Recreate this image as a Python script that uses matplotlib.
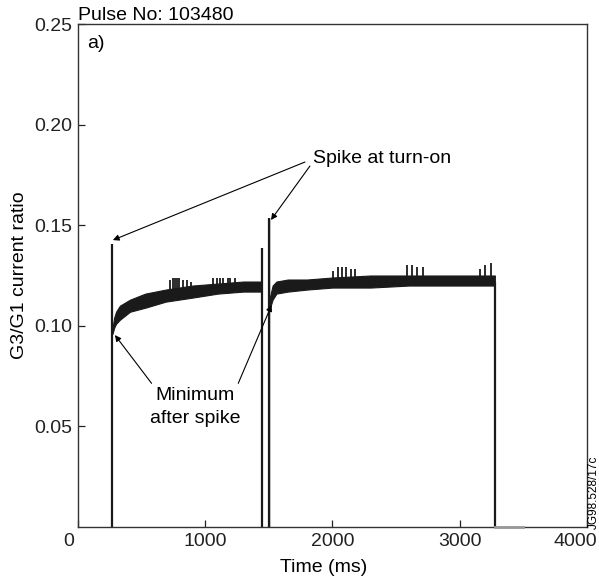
import matplotlib
matplotlib.use('Agg')
import matplotlib.pyplot as plt
import matplotlib.transforms as mtransforms
import numpy as np

plt.rcParams['font.family'] = ['Liberation Sans', 'DejaVu Sans']
plt.rcParams['font.size'] = 14

# ---- data (time in ms, G3/G1 ratio) ----
# noisy band before the gap: lower / upper envelope
seg1_t = [272, 285, 300, 330, 410, 530, 690, 900, 1100, 1300, 1440]
seg1_lo = [0.096, 0.099, 0.101, 0.103, 0.107, 0.109, 0.112, 0.114, 0.116, 0.117, 0.117]
seg1_hi = [0.099, 0.104, 0.107, 0.110, 0.113, 0.116, 0.118, 0.120, 0.121, 0.122, 0.122]

# band after the gap
seg2_t = [1505, 1515, 1530, 1560, 1650, 1800, 2000, 2300, 2600, 2900, 3276]
seg2_lo = [0.110, 0.110, 0.113, 0.116, 0.117, 0.118, 0.119, 0.119, 0.120, 0.120, 0.120]
seg2_hi = [0.113, 0.116, 0.120, 0.122, 0.123, 0.123, 0.124, 0.125, 0.125, 0.125, 0.125]

# turn-on / turn-off edges (vertical lines from zero)
edge_t = [270, 1445, 1500, 3276]
edge_top = [0.1405, 0.1385, 0.1535, 0.122]

# small spikes sticking out of the band
spike_t = [725, 745, 762, 777, 793, 825, 856, 888, 1060, 1092, 1115, 1140, 1178,
           1194, 1233, 2003, 2040, 2075, 2110, 2145, 2176, 2585, 2624, 2663, 2710,
           3158, 3197, 3244]
spike_v = [0.123, 0.124, 0.124, 0.124, 0.124, 0.123, 0.123, 0.122, 0.124, 0.124,
           0.124, 0.124, 0.124, 0.124, 0.124, 0.127, 0.129, 0.129, 0.129, 0.128,
           0.128, 0.130, 0.130, 0.129, 0.129, 0.128, 0.130, 0.131]

# signal off after the pulse
tail_t = [3276, 3495]
tail_v = [0.0, 0.0]

x_ticks = [0, 1000, 2000, 3000, 4000]
y_ticks = [0.05, 0.10, 0.15, 0.20, 0.25]


fig = plt.figure(figsize=(5.99, 5.83), dpi=100)
ax = fig.add_axes([0.130, 0.0961, 0.850, 0.8627])

trace = '#1a1a1a'
ax.fill_between(seg1_t, seg1_lo, seg1_hi, color=trace, lw=0.8)
ax.fill_between(seg2_t, seg2_lo, seg2_hi, color=trace, lw=0.8)

all_t = seg1_t + seg2_t
all_c = [(a + b) / 2 for a, b in zip(seg1_lo + seg2_lo, seg1_hi + seg2_hi)]
base = np.interp(spike_t, all_t, all_c)
ax.vlines(spike_t, base, spike_v, color=trace, lw=1.3)

ax.vlines(edge_t, 0, edge_top, color=trace, lw=1.6)
ax.vlines(edge_t[2] + 4, 0, edge_top[2], color=trace, lw=1.0)
ax.plot(tail_t, tail_v, color='#999999', lw=2, clip_on=False, zorder=5)

ax.set_xlim(0, 4000)
ax.set_ylim(0, 0.25)
ax.set_xticks(x_ticks)
ax.set_yticks(y_ticks)
ax.set_yticklabels(['%.2f' % v for v in y_ticks])
ax.tick_params(direction='in', length=5, width=0.9, pad=4, colors='#222222')
for s in ax.spines.values():
    s.set_linewidth(1.0)
    s.set_color('#333333')

# end labels on the time axis sit a little to the left of their ticks
xlabels = ax.get_xticklabels()
for lab, dx in ((xlabels[0], -9), (xlabels[-1], -12)):
    lab.set_transform(lab.get_transform() +
                      mtransforms.ScaledTranslation(dx / 100, 0, fig.dpi_scale_trans))

ax.set_xlabel('Time (ms)')
ax.set_ylabel('G3/G1 current ratio')
ax.xaxis.set_label_coords(0.482, -0.063)
ax.yaxis.set_label_coords(-0.098, 0.5)

ax.text(0, 1.008, 'Pulse No: 103480', transform=ax.transAxes,
        ha='left', va='baseline')
ax.text(0.018, 0.952, 'a)', transform=ax.transAxes, ha='left', va='baseline')

# annotations
arrow = dict(arrowstyle='-|>', color='k', lw=0.8, mutation_scale=9,
             shrinkA=0, shrinkB=0)
ax.text(1846, 0.181, 'Spike at turn-on', ha='left', va='baseline')
ax.annotate('', xy=(275, 0.1426), xytext=(1784, 0.1814), arrowprops=arrow)
ax.annotate('', xy=(1517, 0.1526), xytext=(1823, 0.1794), arrowprops=arrow)

ax.text(920, 0.0631, 'Minimum', ha='center', va='baseline')
ax.text(920, 0.0517, 'after spike', ha='center', va='baseline')
ax.annotate('', xy=(291, 0.0954), xytext=(579, 0.0714), arrowprops=arrow)
ax.annotate('', xy=(1522, 0.1103), xytext=(1260, 0.0714), arrowprops=arrow)

fig.text(0.9915, 0.155, 'JG98.528/17c', rotation=90, ha='center', va='center',
         fontsize=8.5)

fig.savefig('out.png', dpi=100)
